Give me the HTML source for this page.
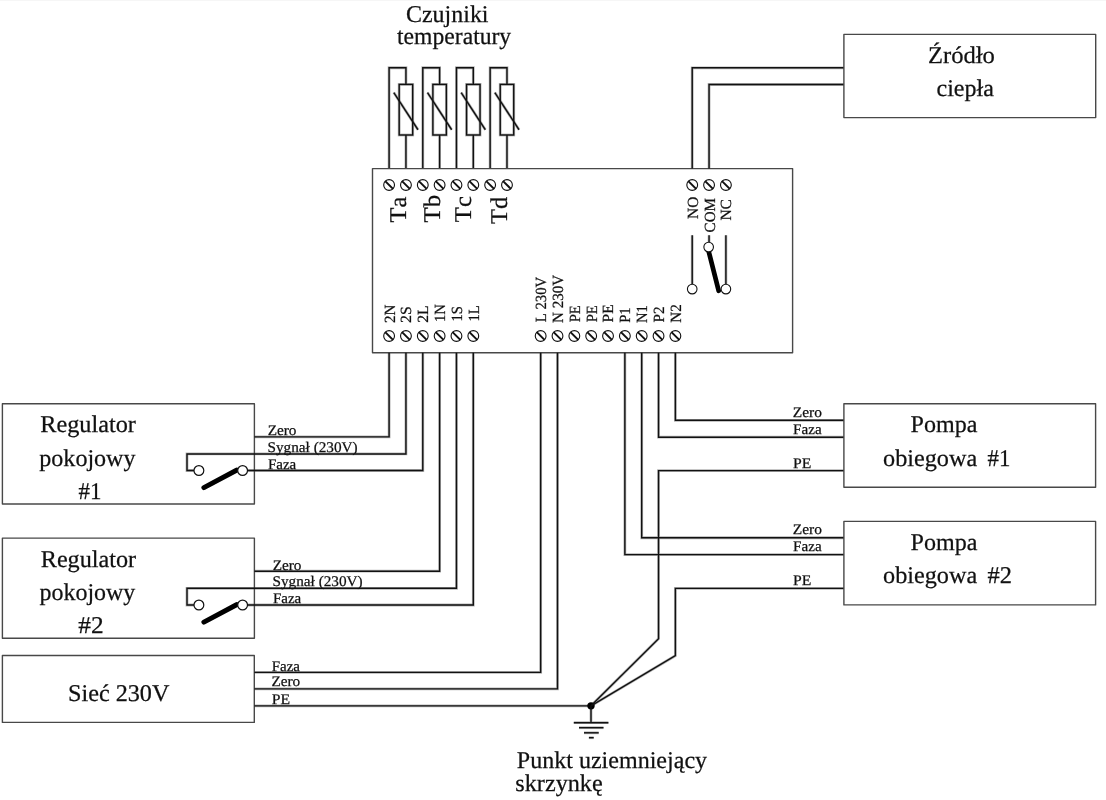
<!DOCTYPE html>
<html><head><meta charset="utf-8"><style>
html,body{margin:0;padding:0;background:#fff;}
svg{display:block;text-rendering:geometricPrecision;will-change:transform;}
svg text{font-family:"Liberation Serif",serif;font-kerning:none;fill:#111;stroke:#111;stroke-width:0.25px;}
.box{stroke:#484848;stroke-linejoin:round;}
</style></head><body>
<svg width="1106" height="800" viewBox="0 0 1106 800" stroke="#111" fill="none">
<g stroke="#b4b4b4" stroke-linejoin="miter"><path d="M389.10,168.6 V67.75 H405.94 V84.4" stroke-width="2.80"/>
<rect x="399.19" y="84.40" width="13.50" height="50.60" stroke-width="2.80"/>
<line x1="405.94" y1="135.00" x2="405.94" y2="168.60" stroke-width="2.80" stroke-linecap="butt"/>
<line x1="393.80" y1="92.60" x2="418.00" y2="129.75" stroke-width="2.80" stroke-linecap="butt"/>
<path d="M422.78,168.6 V67.75 H439.62 V84.4" stroke-width="2.80"/>
<rect x="432.87" y="84.40" width="13.50" height="50.60" stroke-width="2.80"/>
<line x1="439.62" y1="135.00" x2="439.62" y2="168.60" stroke-width="2.80" stroke-linecap="butt"/>
<line x1="427.48" y1="92.60" x2="451.68" y2="129.75" stroke-width="2.80" stroke-linecap="butt"/>
<path d="M456.46,168.6 V67.75 H473.30 V84.4" stroke-width="2.80"/>
<rect x="466.55" y="84.40" width="13.50" height="50.60" stroke-width="2.80"/>
<line x1="473.30" y1="135.00" x2="473.30" y2="168.60" stroke-width="2.80" stroke-linecap="butt"/>
<line x1="461.16" y1="92.60" x2="485.36" y2="129.75" stroke-width="2.80" stroke-linecap="butt"/>
<path d="M490.14,168.6 V67.75 H506.98 V84.4" stroke-width="2.80"/>
<rect x="500.23" y="84.40" width="13.50" height="50.60" stroke-width="2.80"/>
<line x1="506.98" y1="135.00" x2="506.98" y2="168.60" stroke-width="2.80" stroke-linecap="butt"/>
<line x1="494.84" y1="92.60" x2="519.04" y2="129.75" stroke-width="2.80" stroke-linecap="butt"/>
<line x1="692.22" y1="235.30" x2="692.22" y2="284.00" stroke-width="2.80" stroke-linecap="butt"/>
<line x1="709.06" y1="235.30" x2="709.06" y2="242.00" stroke-width="2.80" stroke-linecap="butt"/>
<line x1="725.90" y1="235.30" x2="725.90" y2="284.00" stroke-width="2.80" stroke-linecap="butt"/>
<path d="M692.22,168.6 V67.8 H843.9" stroke-width="2.80"/>
<path d="M709.06,168.6 V84.5 H843.9" stroke-width="2.80"/>
<path d="M389.10,352.75 V436.9 H254.4" stroke-width="2.80"/>
<path d="M405.94,352.75 V453.95 H187.0 V470.5 H194.00" stroke-width="2.80"/>
<path d="M422.78,352.75 V470.5 H247.50" stroke-width="2.80"/>
<path d="M439.62,352.75 V571.2 H254.4" stroke-width="2.80"/>
<path d="M456.46,352.75 V588.3 H187.0 V605.0 H194.00" stroke-width="2.80"/>
<path d="M473.30,352.75 V605.0 H247.50" stroke-width="2.80"/>
<path d="M254.4,672.4 H540.66 V352.75" stroke-width="2.80"/>
<path d="M254.4,688.9 H557.50 V352.75" stroke-width="2.80"/>
<line x1="254.40" y1="705.85" x2="591.00" y2="705.85" stroke-width="2.80" stroke-linecap="butt"/>
<line x1="591.00" y1="705.85" x2="591.00" y2="722.70" stroke-width="2.80" stroke-linecap="butt"/>
<line x1="573.80" y1="722.70" x2="608.40" y2="722.70" stroke-width="2.80" stroke-linecap="butt"/>
<line x1="579.00" y1="727.70" x2="603.50" y2="727.70" stroke-width="2.80" stroke-linecap="butt"/>
<line x1="584.00" y1="732.80" x2="598.70" y2="732.80" stroke-width="2.80" stroke-linecap="butt"/>
<line x1="588.90" y1="737.70" x2="593.70" y2="737.70" stroke-width="2.80" stroke-linecap="butt"/>
<path d="M675.38,352.75 V420.3 H843.9" stroke-width="2.80"/>
<path d="M658.54,352.75 V437.2 H843.9" stroke-width="2.80"/>
<path d="M843.9,470.6 H658.54 V638.7 L591.0,705.85" stroke-width="2.80"/>
<path d="M641.70,352.75 V537.75 H843.9" stroke-width="2.80"/>
<path d="M624.86,352.75 V554.6 H843.9" stroke-width="2.80"/>
<path d="M843.9,588.4 H675.38 V655.7 L591.0,705.85" stroke-width="2.80"/></g>
<g stroke="#111"><rect x="0" y="0" width="1106" height="1" fill="#f6f6f6" stroke="none"/>
<path d="M389.10,168.6 V67.75 H405.94 V84.4" stroke-width="1.40"/>
<rect x="399.19" y="84.40" width="13.50" height="50.60" stroke-width="1.40"/>
<line x1="405.94" y1="135.00" x2="405.94" y2="168.60" stroke-width="1.40" stroke-linecap="butt"/>
<line x1="393.80" y1="92.60" x2="418.00" y2="129.75" stroke-width="1.40" stroke-linecap="butt"/>
<path d="M422.78,168.6 V67.75 H439.62 V84.4" stroke-width="1.40"/>
<rect x="432.87" y="84.40" width="13.50" height="50.60" stroke-width="1.40"/>
<line x1="439.62" y1="135.00" x2="439.62" y2="168.60" stroke-width="1.40" stroke-linecap="butt"/>
<line x1="427.48" y1="92.60" x2="451.68" y2="129.75" stroke-width="1.40" stroke-linecap="butt"/>
<path d="M456.46,168.6 V67.75 H473.30 V84.4" stroke-width="1.40"/>
<rect x="466.55" y="84.40" width="13.50" height="50.60" stroke-width="1.40"/>
<line x1="473.30" y1="135.00" x2="473.30" y2="168.60" stroke-width="1.40" stroke-linecap="butt"/>
<line x1="461.16" y1="92.60" x2="485.36" y2="129.75" stroke-width="1.40" stroke-linecap="butt"/>
<path d="M490.14,168.6 V67.75 H506.98 V84.4" stroke-width="1.40"/>
<rect x="500.23" y="84.40" width="13.50" height="50.60" stroke-width="1.40"/>
<line x1="506.98" y1="135.00" x2="506.98" y2="168.60" stroke-width="1.40" stroke-linecap="butt"/>
<line x1="494.84" y1="92.60" x2="519.04" y2="129.75" stroke-width="1.40" stroke-linecap="butt"/>
<rect class="box" x="372.50" y="168.60" width="420.10" height="184.15" stroke-width="1.4"/>
<circle cx="389.10" cy="185.00" r="5.4" stroke-width="1.1" fill="#fff"/>
<line x1="385.20" y1="181.10" x2="393.00" y2="188.90" stroke-width="2.0" stroke-linecap="butt"/>
<circle cx="405.94" cy="185.00" r="5.4" stroke-width="1.1" fill="#fff"/>
<line x1="402.04" y1="181.10" x2="409.84" y2="188.90" stroke-width="2.0" stroke-linecap="butt"/>
<circle cx="422.78" cy="185.00" r="5.4" stroke-width="1.1" fill="#fff"/>
<line x1="418.88" y1="181.10" x2="426.68" y2="188.90" stroke-width="2.0" stroke-linecap="butt"/>
<circle cx="439.62" cy="185.00" r="5.4" stroke-width="1.1" fill="#fff"/>
<line x1="435.72" y1="181.10" x2="443.52" y2="188.90" stroke-width="2.0" stroke-linecap="butt"/>
<circle cx="456.46" cy="185.00" r="5.4" stroke-width="1.1" fill="#fff"/>
<line x1="452.56" y1="181.10" x2="460.36" y2="188.90" stroke-width="2.0" stroke-linecap="butt"/>
<circle cx="473.30" cy="185.00" r="5.4" stroke-width="1.1" fill="#fff"/>
<line x1="469.40" y1="181.10" x2="477.20" y2="188.90" stroke-width="2.0" stroke-linecap="butt"/>
<circle cx="490.14" cy="185.00" r="5.4" stroke-width="1.1" fill="#fff"/>
<line x1="486.24" y1="181.10" x2="494.04" y2="188.90" stroke-width="2.0" stroke-linecap="butt"/>
<circle cx="506.98" cy="185.00" r="5.4" stroke-width="1.1" fill="#fff"/>
<line x1="503.08" y1="181.10" x2="510.88" y2="188.90" stroke-width="2.0" stroke-linecap="butt"/>
<circle cx="692.22" cy="185.00" r="5.4" stroke-width="1.1" fill="#fff"/>
<line x1="688.32" y1="181.10" x2="696.12" y2="188.90" stroke-width="2.0" stroke-linecap="butt"/>
<circle cx="709.06" cy="185.00" r="5.4" stroke-width="1.1" fill="#fff"/>
<line x1="705.16" y1="181.10" x2="712.96" y2="188.90" stroke-width="2.0" stroke-linecap="butt"/>
<circle cx="725.90" cy="185.00" r="5.4" stroke-width="1.1" fill="#fff"/>
<line x1="722.00" y1="181.10" x2="729.80" y2="188.90" stroke-width="2.0" stroke-linecap="butt"/>
<circle cx="389.10" cy="336.00" r="5.4" stroke-width="1.1" fill="#fff"/>
<line x1="385.20" y1="332.10" x2="393.00" y2="339.90" stroke-width="2.0" stroke-linecap="butt"/>
<circle cx="405.94" cy="336.00" r="5.4" stroke-width="1.1" fill="#fff"/>
<line x1="402.04" y1="332.10" x2="409.84" y2="339.90" stroke-width="2.0" stroke-linecap="butt"/>
<circle cx="422.78" cy="336.00" r="5.4" stroke-width="1.1" fill="#fff"/>
<line x1="418.88" y1="332.10" x2="426.68" y2="339.90" stroke-width="2.0" stroke-linecap="butt"/>
<circle cx="439.62" cy="336.00" r="5.4" stroke-width="1.1" fill="#fff"/>
<line x1="435.72" y1="332.10" x2="443.52" y2="339.90" stroke-width="2.0" stroke-linecap="butt"/>
<circle cx="456.46" cy="336.00" r="5.4" stroke-width="1.1" fill="#fff"/>
<line x1="452.56" y1="332.10" x2="460.36" y2="339.90" stroke-width="2.0" stroke-linecap="butt"/>
<circle cx="473.30" cy="336.00" r="5.4" stroke-width="1.1" fill="#fff"/>
<line x1="469.40" y1="332.10" x2="477.20" y2="339.90" stroke-width="2.0" stroke-linecap="butt"/>
<circle cx="540.66" cy="336.00" r="5.4" stroke-width="1.1" fill="#fff"/>
<line x1="536.76" y1="332.10" x2="544.56" y2="339.90" stroke-width="2.0" stroke-linecap="butt"/>
<circle cx="557.50" cy="336.00" r="5.4" stroke-width="1.1" fill="#fff"/>
<line x1="553.60" y1="332.10" x2="561.40" y2="339.90" stroke-width="2.0" stroke-linecap="butt"/>
<circle cx="574.34" cy="336.00" r="5.4" stroke-width="1.1" fill="#fff"/>
<line x1="570.44" y1="332.10" x2="578.24" y2="339.90" stroke-width="2.0" stroke-linecap="butt"/>
<circle cx="591.18" cy="336.00" r="5.4" stroke-width="1.1" fill="#fff"/>
<line x1="587.28" y1="332.10" x2="595.08" y2="339.90" stroke-width="2.0" stroke-linecap="butt"/>
<circle cx="608.02" cy="336.00" r="5.4" stroke-width="1.1" fill="#fff"/>
<line x1="604.12" y1="332.10" x2="611.92" y2="339.90" stroke-width="2.0" stroke-linecap="butt"/>
<circle cx="624.86" cy="336.00" r="5.4" stroke-width="1.1" fill="#fff"/>
<line x1="620.96" y1="332.10" x2="628.76" y2="339.90" stroke-width="2.0" stroke-linecap="butt"/>
<circle cx="641.70" cy="336.00" r="5.4" stroke-width="1.1" fill="#fff"/>
<line x1="637.80" y1="332.10" x2="645.60" y2="339.90" stroke-width="2.0" stroke-linecap="butt"/>
<circle cx="658.54" cy="336.00" r="5.4" stroke-width="1.1" fill="#fff"/>
<line x1="654.64" y1="332.10" x2="662.44" y2="339.90" stroke-width="2.0" stroke-linecap="butt"/>
<circle cx="675.38" cy="336.00" r="5.4" stroke-width="1.1" fill="#fff"/>
<line x1="671.48" y1="332.10" x2="679.28" y2="339.90" stroke-width="2.0" stroke-linecap="butt"/>
<line x1="708.60" y1="251.00" x2="718.70" y2="290.80" stroke-width="4.7" stroke-linecap="round" stroke="#000"/>
<line x1="692.22" y1="235.30" x2="692.22" y2="284.00" stroke-width="1.40" stroke-linecap="butt"/>
<circle cx="692.22" cy="289.10" r="4.8" stroke-width="1.1" fill="#fff"/>
<line x1="709.06" y1="235.30" x2="709.06" y2="242.00" stroke-width="1.40" stroke-linecap="butt"/>
<circle cx="708.66" cy="247.10" r="4.8" stroke-width="1.1" fill="#fff"/>
<line x1="725.90" y1="235.30" x2="725.90" y2="284.00" stroke-width="1.40" stroke-linecap="butt"/>
<circle cx="725.90" cy="289.10" r="4.8" stroke-width="1.1" fill="#fff"/>
<path d="M692.22,168.6 V67.8 H843.9" stroke-width="1.40"/>
<path d="M709.06,168.6 V84.5 H843.9" stroke-width="1.40"/>
<rect class="box" x="843.90" y="34.40" width="251.80" height="83.20" stroke-width="1.4"/>
<rect class="box" x="2.40" y="403.75" width="252.00" height="100.25" stroke-width="1.4"/>
<path d="M389.10,352.75 V436.9 H254.4" stroke-width="1.40"/>
<path d="M405.94,352.75 V453.95 H187.0 V470.5 H194.00" stroke-width="1.40"/>
<path d="M422.78,352.75 V470.5 H247.50" stroke-width="1.40"/>
<line x1="203.90" y1="487.60" x2="236.50" y2="470.20" stroke-width="5.0" stroke-linecap="round" stroke="#000"/>
<circle cx="198.90" cy="470.50" r="4.9" stroke-width="1.2" fill="#fff"/>
<circle cx="242.60" cy="470.50" r="4.9" stroke-width="1.2" fill="#fff"/>
<rect class="box" x="2.40" y="538.10" width="252.00" height="100.10" stroke-width="1.4"/>
<path d="M439.62,352.75 V571.2 H254.4" stroke-width="1.40"/>
<path d="M456.46,352.75 V588.3 H187.0 V605.0 H194.00" stroke-width="1.40"/>
<path d="M473.30,352.75 V605.0 H247.50" stroke-width="1.40"/>
<line x1="203.90" y1="622.10" x2="236.50" y2="604.70" stroke-width="5.0" stroke-linecap="round" stroke="#000"/>
<circle cx="198.90" cy="605.00" r="4.9" stroke-width="1.2" fill="#fff"/>
<circle cx="242.60" cy="605.00" r="4.9" stroke-width="1.2" fill="#fff"/>
<rect class="box" x="2.40" y="655.50" width="251.90" height="66.90" stroke-width="1.4"/>
<path d="M254.4,672.4 H540.66 V352.75" stroke-width="1.40"/>
<path d="M254.4,688.9 H557.50 V352.75" stroke-width="1.40"/>
<line x1="254.40" y1="705.85" x2="591.00" y2="705.85" stroke-width="1.40" stroke-linecap="butt"/>
<circle cx="591.00" cy="705.85" r="3.7" stroke-width="0" fill="#000"/>
<line x1="591.00" y1="705.85" x2="591.00" y2="722.70" stroke-width="1.40" stroke-linecap="butt"/>
<line x1="573.80" y1="722.70" x2="608.40" y2="722.70" stroke-width="1.40" stroke-linecap="butt"/>
<line x1="579.00" y1="727.70" x2="603.50" y2="727.70" stroke-width="1.40" stroke-linecap="butt"/>
<line x1="584.00" y1="732.80" x2="598.70" y2="732.80" stroke-width="1.40" stroke-linecap="butt"/>
<line x1="588.90" y1="737.70" x2="593.70" y2="737.70" stroke-width="1.40" stroke-linecap="butt"/>
<path d="M675.38,352.75 V420.3 H843.9" stroke-width="1.40"/>
<path d="M658.54,352.75 V437.2 H843.9" stroke-width="1.40"/>
<path d="M843.9,470.6 H658.54 V638.7 L591.0,705.85" stroke-width="1.40"/>
<path d="M641.70,352.75 V537.75 H843.9" stroke-width="1.40"/>
<path d="M624.86,352.75 V554.6 H843.9" stroke-width="1.40"/>
<path d="M843.9,588.4 H675.38 V655.7 L591.0,705.85" stroke-width="1.40"/>
<rect class="box" x="843.90" y="403.75" width="251.70" height="83.50" stroke-width="1.4"/>
<rect class="box" x="843.90" y="521.40" width="251.70" height="83.50" stroke-width="1.4"/>
<text font-size="24" transform="translate(406.00,22.30) scale(0.9982,1)">Czujniki</text>
<text font-size="24" transform="translate(397.05,43.70) scale(0.9844,1)">temperatury</text>
<text font-size="24" transform="translate(40.24,431.90) scale(1.0112,1)">Regulator</text>
<text font-size="24" transform="translate(39.30,465.70) scale(1.0021,1)">pokojowy</text>
<text font-size="24" transform="translate(78.52,499.10) scale(0.9545,1)">#1</text>
<text font-size="24" transform="translate(40.74,566.60) scale(1.0080,1)">Regulator</text>
<text font-size="24" transform="translate(39.50,599.75) scale(0.9974,1)">pokojowy</text>
<text font-size="24" transform="translate(78.22,633.10) scale(1.0562,1)">#2</text>
<text font-size="24" transform="translate(67.99,700.90) scale(1.0076,1)">Sieć 230V</text>
<text font-size="24" transform="translate(927.92,62.50) scale(1.0245,1)">Źródło</text>
<text font-size="24" transform="translate(936.50,96.00) scale(1.0000,1)">ciepła</text>
<text font-size="24" transform="translate(910.55,432.20) scale(1.0015,1)">Pompa</text>
<text font-size="24" transform="translate(883.09,465.70) scale(1.0087,1)">obiegowa</text>
<text font-size="24" transform="translate(987.52,465.70) scale(0.9500,1)">#1</text>
<text font-size="24" transform="translate(910.55,549.80) scale(1.0015,1)">Pompa</text>
<text font-size="24" transform="translate(883.09,583.10) scale(1.0087,1)">obiegowa</text>
<text font-size="24" transform="translate(987.49,583.10) scale(1.0202,1)">#2</text>
<text font-size="24" transform="translate(516.75,767.80) scale(1.0021,1)">Punkt uziemniejący</text>
<text font-size="24" transform="translate(515.29,791.30) scale(1.0088,1)">skrzynkę</text>
<text font-size="14.7" transform="translate(267.67,435.40) scale(1.0396,1)">Zero</text>
<text font-size="14.7" transform="translate(267.46,451.80) scale(1.0381,1)">Sygnał (230V)</text>
<text font-size="14.7" transform="translate(267.99,468.70) scale(1.0185,1)">Faza</text>
<text font-size="14.7" transform="translate(272.67,569.70) scale(1.0396,1)">Zero</text>
<text font-size="14.7" transform="translate(272.46,586.10) scale(1.0381,1)">Sygnał (230V)</text>
<text font-size="14.7" transform="translate(272.99,603.00) scale(1.0185,1)">Faza</text>
<text font-size="14.7" transform="translate(271.69,670.80) scale(1.0185,1)">Faza</text>
<text font-size="14.7" transform="translate(271.42,685.80) scale(1.0396,1)">Zero</text>
<text font-size="14.7" transform="translate(271.67,704.20) scale(1.0688,1)">PE</text>
<text font-size="14.7" transform="translate(792.71,417.20) scale(1.0528,1)">Zero</text>
<text font-size="14.7" transform="translate(793.09,434.00) scale(1.0296,1)">Faza</text>
<text font-size="14.7" transform="translate(792.97,467.75) scale(1.0688,1)">PE</text>
<text font-size="14.7" transform="translate(792.71,534.40) scale(1.0528,1)">Zero</text>
<text font-size="14.7" transform="translate(793.09,551.20) scale(1.0296,1)">Faza</text>
<text font-size="14.7" transform="translate(792.97,584.95) scale(1.0688,1)">PE</text>
<text font-size="24" transform="translate(406.00,222.51) rotate(-90) scale(1.0184,1)">Ta</text>
<text font-size="24" transform="translate(440.00,222.52) rotate(-90) scale(1.0337,1)">Tb</text>
<text font-size="24" transform="translate(471.40,222.21) rotate(-90) scale(1.0292,1)">Tc</text>
<text font-size="24" transform="translate(507.00,224.01) rotate(-90) scale(1.0192,1)">Td</text>
<text font-size="15.5" transform="translate(697.50,218.90) rotate(-90) scale(0.9929,1)">NO</text>
<text font-size="15.5" transform="translate(714.50,232.38) rotate(-90) scale(0.9679,1)">COM</text>
<text font-size="15.5" transform="translate(731.40,220.60) rotate(-90) scale(0.9975,1)">NC</text>
<text font-size="15.5" transform="translate(394.50,322.93) rotate(-90) scale(0.9690,1)">2N</text>
<text font-size="15.5" transform="translate(411.30,322.96) rotate(-90) scale(1.0169,1)">2S</text>
<text font-size="15.5" transform="translate(427.90,322.76) rotate(-90) scale(1.0129,1)">2L</text>
<text font-size="15.5" transform="translate(444.90,321.93) rotate(-90) scale(0.9400,1)">1N</text>
<text font-size="15.5" transform="translate(461.70,321.62) rotate(-90) scale(0.9400,1)">1S</text>
<text font-size="15.5" transform="translate(478.60,321.53) rotate(-90) scale(0.9400,1)">1L</text>
<text font-size="15.5" transform="translate(546.00,322.17) rotate(-90) scale(0.9489,1)">L 230V</text>
<text font-size="15.5" transform="translate(563.00,322.99) rotate(-90) scale(0.9703,1)">N 230V</text>
<text font-size="15.5" transform="translate(579.80,322.27) rotate(-90) scale(0.9433,1)">PE</text>
<text font-size="15.5" transform="translate(596.60,322.27) rotate(-90) scale(0.9433,1)">PE</text>
<text font-size="15.5" transform="translate(613.40,322.40) rotate(-90) scale(0.9970,1)">PE</text>
<text font-size="15.5" transform="translate(630.10,322.87) rotate(-90) scale(0.9400,1)">P1</text>
<text font-size="15.5" transform="translate(647.20,323.05) rotate(-90) scale(0.9400,1)">N1</text>
<text font-size="15.5" transform="translate(663.90,322.39) rotate(-90) scale(0.9800,1)">P2</text>
<text font-size="15.5" transform="translate(681.00,322.79) rotate(-90) scale(0.9771,1)">N2</text></g>
</svg>
</body></html>
